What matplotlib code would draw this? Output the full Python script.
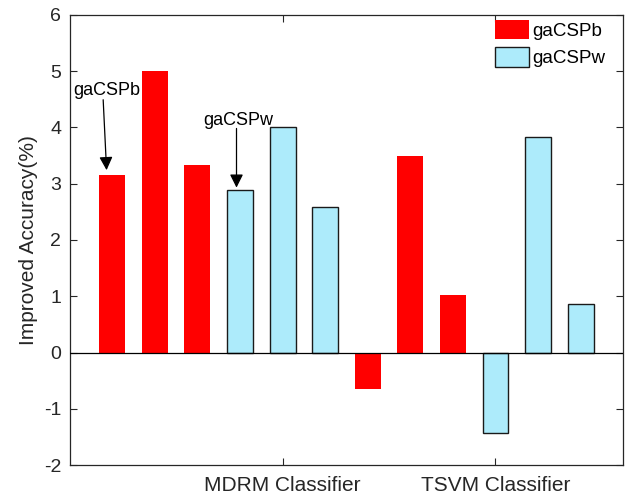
import matplotlib
matplotlib.use("Agg")
import matplotlib.pyplot as plt
from matplotlib.patches import Patch

plt.rcParams['font.family'] = ['Liberation Sans', 'DejaVu Sans']

# Improved accuracy (%) per subject/method, grouped by classifier
positions = [1, 2, 3, 4, 5, 6, 7, 8, 9, 10, 11, 12]
improved = [3.16, 5.00, 3.33, 2.88, 4.00, 2.59, -0.65, 3.50, 1.03, -1.42, 3.83, 0.87]
method = ['gaCSPb', 'gaCSPb', 'gaCSPb', 'gaCSPw', 'gaCSPw', 'gaCSPw',
          'gaCSPb', 'gaCSPb', 'gaCSPb', 'gaCSPw', 'gaCSPw', 'gaCSPw']
group_ticks = [5, 10]
group_labels = ['MDRM Classifier', 'TSVM Classifier']
y_ticks = [-2, -1, 0, 1, 2, 3, 4, 5, 6]

RED = '#FF0000'
BLUE = '#ADEBFB'
EDGE = '#1A1A1A'
TXT = '#262626'

fig = plt.figure(figsize=(6.28, 4.98), dpi=100)
ax = fig.add_axes([0.1107, 0.0657, 0.8818, 0.9048])

for x, v, m in zip(positions, improved, method):
    if m == 'gaCSPb':
        ax.bar(x, v, width=0.61, color=RED, edgecolor='none', zorder=2)
    else:
        ax.bar(x, v, width=0.61, color=BLUE, edgecolor=EDGE, linewidth=1.0, zorder=2)

ax.axhline(0, color='black', linewidth=0.9, zorder=3)

ax.set_xlim(0, 13)
ax.set_ylim(-2, 6)
ax.set_yticks(y_ticks)
ax.set_yticklabels([str(t) for t in y_ticks], fontsize=14, color=TXT)
ax.set_xticks(group_ticks)
ax.set_xticklabels(group_labels, fontsize=15, color=TXT)
ax.tick_params(axis='both', direction='in', length=5, width=0.8,
               top=True, right=True, colors=TXT)
ax.tick_params(axis='x', pad=8)
ax.tick_params(axis='y', pad=6)
for s in ax.spines.values():
    s.set_color(TXT)
    s.set_linewidth(0.9)

ax.set_ylabel('Improved Accuracy(%)', fontsize=15, color=TXT, labelpad=4)

# Callouts pointing at the first bar of each method
arrow = dict(arrowstyle='-|>', color='black', lw=0.9,
             mutation_scale=20, shrinkA=0, shrinkB=0)
ax.annotate('', xy=(0.87, 3.24), xytext=(0.79, 4.49), arrowprops=arrow)
ax.text(0.87, 4.66, 'gaCSPb', fontsize=13, ha='center', va='center', color='black')
ax.annotate('', xy=(3.92, 2.93), xytext=(3.92, 3.98), arrowprops=arrow)
ax.text(3.955, 4.13, 'gaCSPw', fontsize=13, ha='center', va='center', color='black')

handles = [Patch(facecolor=RED, edgecolor='none', label='gaCSPb'),
           Patch(facecolor=BLUE, edgecolor=EDGE, linewidth=1.0, label='gaCSPw')]
fig.legend(handles=handles, loc='upper left',
           bbox_to_anchor=(495 / 628, 1 - 20 / 498),
           frameon=False, fontsize=13.5, handlelength=1.8, handleheight=1.2,
           handletextpad=0.2, labelspacing=0.4, borderpad=0, borderaxespad=0)

fig.savefig('out.png', dpi=100)
